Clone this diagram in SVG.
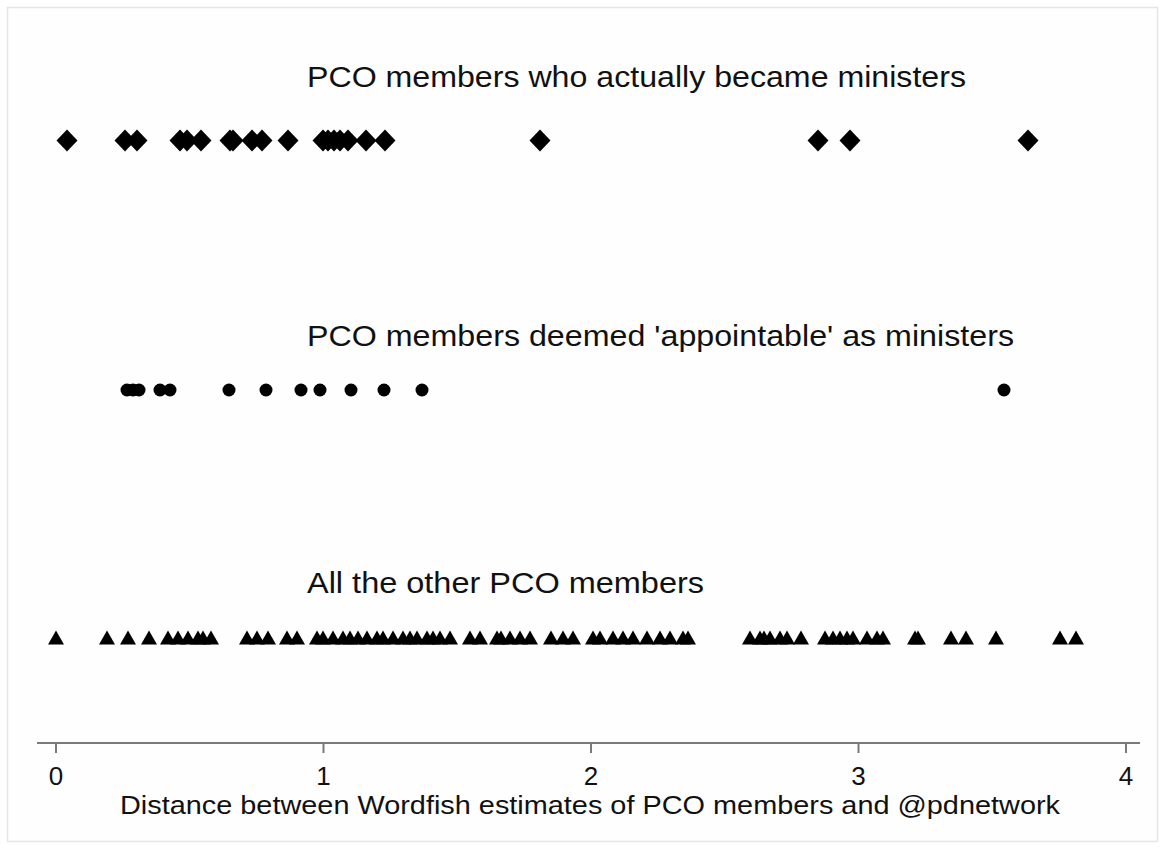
<svg xmlns="http://www.w3.org/2000/svg" xmlns:xlink="http://www.w3.org/1999/xlink" width="1164" height="849" viewBox="0 0 1164 849">
<style>
.t{font-family:"Liberation Sans",Arial,sans-serif;fill:#111;}
.title{font-size:29px;}
.tick{font-size:26px;}
.axt{font-size:25px;}
.mk{fill:#000;}
.ax{stroke:#7a7a7a;stroke-width:2;fill:none;}
</style>
<defs>
<path id="dia" d="M0,-11 L10.5,0 L0,11 L-10.5,0Z"/>
<circle id="dot" r="6.5"/>
<path id="tri" d="M0,-7.5 L8,6.5 L-8,6.5Z"/>
</defs>
<rect x="0" y="0" width="1164" height="849" fill="#fff"/>
<rect x="7.5" y="7.5" width="1150" height="834" fill="#fefefe" stroke="#e3e7ea" stroke-width="1.5"/>

<g id="ministers">
<text class="t title" x="307" y="87" textLength="659" lengthAdjust="spacingAndGlyphs">PCO members who actually became ministers</text>
<g class="mk">
<use xlink:href="#dia" x="67" y="140.5"/>
<use xlink:href="#dia" x="125" y="140.5"/>
<use xlink:href="#dia" x="137" y="140.5"/>
<use xlink:href="#dia" x="180" y="140.5"/>
<use xlink:href="#dia" x="187" y="140.5"/>
<use xlink:href="#dia" x="201" y="140.5"/>
<use xlink:href="#dia" x="230" y="140.5"/>
<use xlink:href="#dia" x="233" y="140.5"/>
<use xlink:href="#dia" x="252" y="140.5"/>
<use xlink:href="#dia" x="262" y="140.5"/>
<use xlink:href="#dia" x="288" y="140.5"/>
<use xlink:href="#dia" x="323" y="140.5"/>
<use xlink:href="#dia" x="328" y="140.5"/>
<use xlink:href="#dia" x="334" y="140.5"/>
<use xlink:href="#dia" x="340" y="140.5"/>
<use xlink:href="#dia" x="348" y="140.5"/>
<use xlink:href="#dia" x="366" y="140.5"/>
<use xlink:href="#dia" x="385" y="140.5"/>
<use xlink:href="#dia" x="540" y="140.5"/>
<use xlink:href="#dia" x="818" y="140.5"/>
<use xlink:href="#dia" x="850" y="140.5"/>
<use xlink:href="#dia" x="1028" y="140.5"/>
</g>
</g>

<g id="appointable">
<text class="t title" x="307" y="346" textLength="707" lengthAdjust="spacingAndGlyphs">PCO members deemed 'appointable' as ministers</text>
<g class="mk">
<use xlink:href="#dot" x="127" y="390"/>
<use xlink:href="#dot" x="133" y="390"/>
<use xlink:href="#dot" x="139" y="390"/>
<use xlink:href="#dot" x="160" y="390"/>
<use xlink:href="#dot" x="170" y="390"/>
<use xlink:href="#dot" x="229" y="390"/>
<use xlink:href="#dot" x="266" y="390"/>
<use xlink:href="#dot" x="301" y="390"/>
<use xlink:href="#dot" x="320" y="390"/>
<use xlink:href="#dot" x="351" y="390"/>
<use xlink:href="#dot" x="384" y="390"/>
<use xlink:href="#dot" x="422" y="390"/>
<use xlink:href="#dot" x="1004" y="390"/>
</g>
</g>

<g id="others">
<text class="t title" x="307" y="593" textLength="397" lengthAdjust="spacingAndGlyphs">All the other PCO members</text>
<g class="mk">
<use xlink:href="#tri" x="56" y="638"/>
<use xlink:href="#tri" x="107" y="638"/>
<use xlink:href="#tri" x="128" y="638"/>
<use xlink:href="#tri" x="149" y="638"/>
<use xlink:href="#tri" x="168" y="638"/>
<use xlink:href="#tri" x="178" y="638"/>
<use xlink:href="#tri" x="188" y="638"/>
<use xlink:href="#tri" x="198" y="638"/>
<use xlink:href="#tri" x="203" y="638"/>
<use xlink:href="#tri" x="211" y="638"/>
<use xlink:href="#tri" x="247" y="638"/>
<use xlink:href="#tri" x="257" y="638"/>
<use xlink:href="#tri" x="268" y="638"/>
<use xlink:href="#tri" x="287" y="638"/>
<use xlink:href="#tri" x="297" y="638"/>
<use xlink:href="#tri" x="317" y="638"/>
<use xlink:href="#tri" x="323" y="638"/>
<use xlink:href="#tri" x="333" y="638"/>
<use xlink:href="#tri" x="343" y="638"/>
<use xlink:href="#tri" x="350" y="638"/>
<use xlink:href="#tri" x="358" y="638"/>
<use xlink:href="#tri" x="367" y="638"/>
<use xlink:href="#tri" x="377" y="638"/>
<use xlink:href="#tri" x="383" y="638"/>
<use xlink:href="#tri" x="393" y="638"/>
<use xlink:href="#tri" x="403" y="638"/>
<use xlink:href="#tri" x="410" y="638"/>
<use xlink:href="#tri" x="417" y="638"/>
<use xlink:href="#tri" x="427" y="638"/>
<use xlink:href="#tri" x="433" y="638"/>
<use xlink:href="#tri" x="440" y="638"/>
<use xlink:href="#tri" x="450" y="638"/>
<use xlink:href="#tri" x="470" y="638"/>
<use xlink:href="#tri" x="480" y="638"/>
<use xlink:href="#tri" x="497" y="638"/>
<use xlink:href="#tri" x="501" y="638"/>
<use xlink:href="#tri" x="510" y="638"/>
<use xlink:href="#tri" x="520" y="638"/>
<use xlink:href="#tri" x="530" y="638"/>
<use xlink:href="#tri" x="551" y="638"/>
<use xlink:href="#tri" x="563" y="638"/>
<use xlink:href="#tri" x="573" y="638"/>
<use xlink:href="#tri" x="593" y="638"/>
<use xlink:href="#tri" x="600" y="638"/>
<use xlink:href="#tri" x="613" y="638"/>
<use xlink:href="#tri" x="623" y="638"/>
<use xlink:href="#tri" x="633" y="638"/>
<use xlink:href="#tri" x="647" y="638"/>
<use xlink:href="#tri" x="660" y="638"/>
<use xlink:href="#tri" x="670" y="638"/>
<use xlink:href="#tri" x="683" y="638"/>
<use xlink:href="#tri" x="688" y="638"/>
<use xlink:href="#tri" x="750" y="638"/>
<use xlink:href="#tri" x="760" y="638"/>
<use xlink:href="#tri" x="764" y="638"/>
<use xlink:href="#tri" x="770" y="638"/>
<use xlink:href="#tri" x="780" y="638"/>
<use xlink:href="#tri" x="787" y="638"/>
<use xlink:href="#tri" x="801" y="638"/>
<use xlink:href="#tri" x="825" y="638"/>
<use xlink:href="#tri" x="833" y="638"/>
<use xlink:href="#tri" x="840" y="638"/>
<use xlink:href="#tri" x="847" y="638"/>
<use xlink:href="#tri" x="853" y="638"/>
<use xlink:href="#tri" x="867" y="638"/>
<use xlink:href="#tri" x="877" y="638"/>
<use xlink:href="#tri" x="883" y="638"/>
<use xlink:href="#tri" x="915" y="638"/>
<use xlink:href="#tri" x="918" y="638"/>
<use xlink:href="#tri" x="951" y="638"/>
<use xlink:href="#tri" x="966" y="638"/>
<use xlink:href="#tri" x="996" y="638"/>
<use xlink:href="#tri" x="1060" y="638"/>
<use xlink:href="#tri" x="1076" y="638"/>
</g>
</g>

<g id="axis">
<path class="ax" d="M37,743 H1140"/>
<path class="ax" stroke-width="1.5" d="M56,743 V753 M323.5,743 V753 M591,743 V753 M858.5,743 V753 M1126,743 V753"/>
<g class="t tick" text-anchor="middle">
<text x="56" y="785">0</text>
<text x="323.5" y="785">1</text>
<text x="591" y="785">2</text>
<text x="858.5" y="785">3</text>
<text x="1126" y="785">4</text>
</g>
<text class="t axt" x="120" y="814" textLength="940" lengthAdjust="spacingAndGlyphs">Distance between Wordfish estimates of PCO members and @pdnetwork</text>
</g>
</svg>
